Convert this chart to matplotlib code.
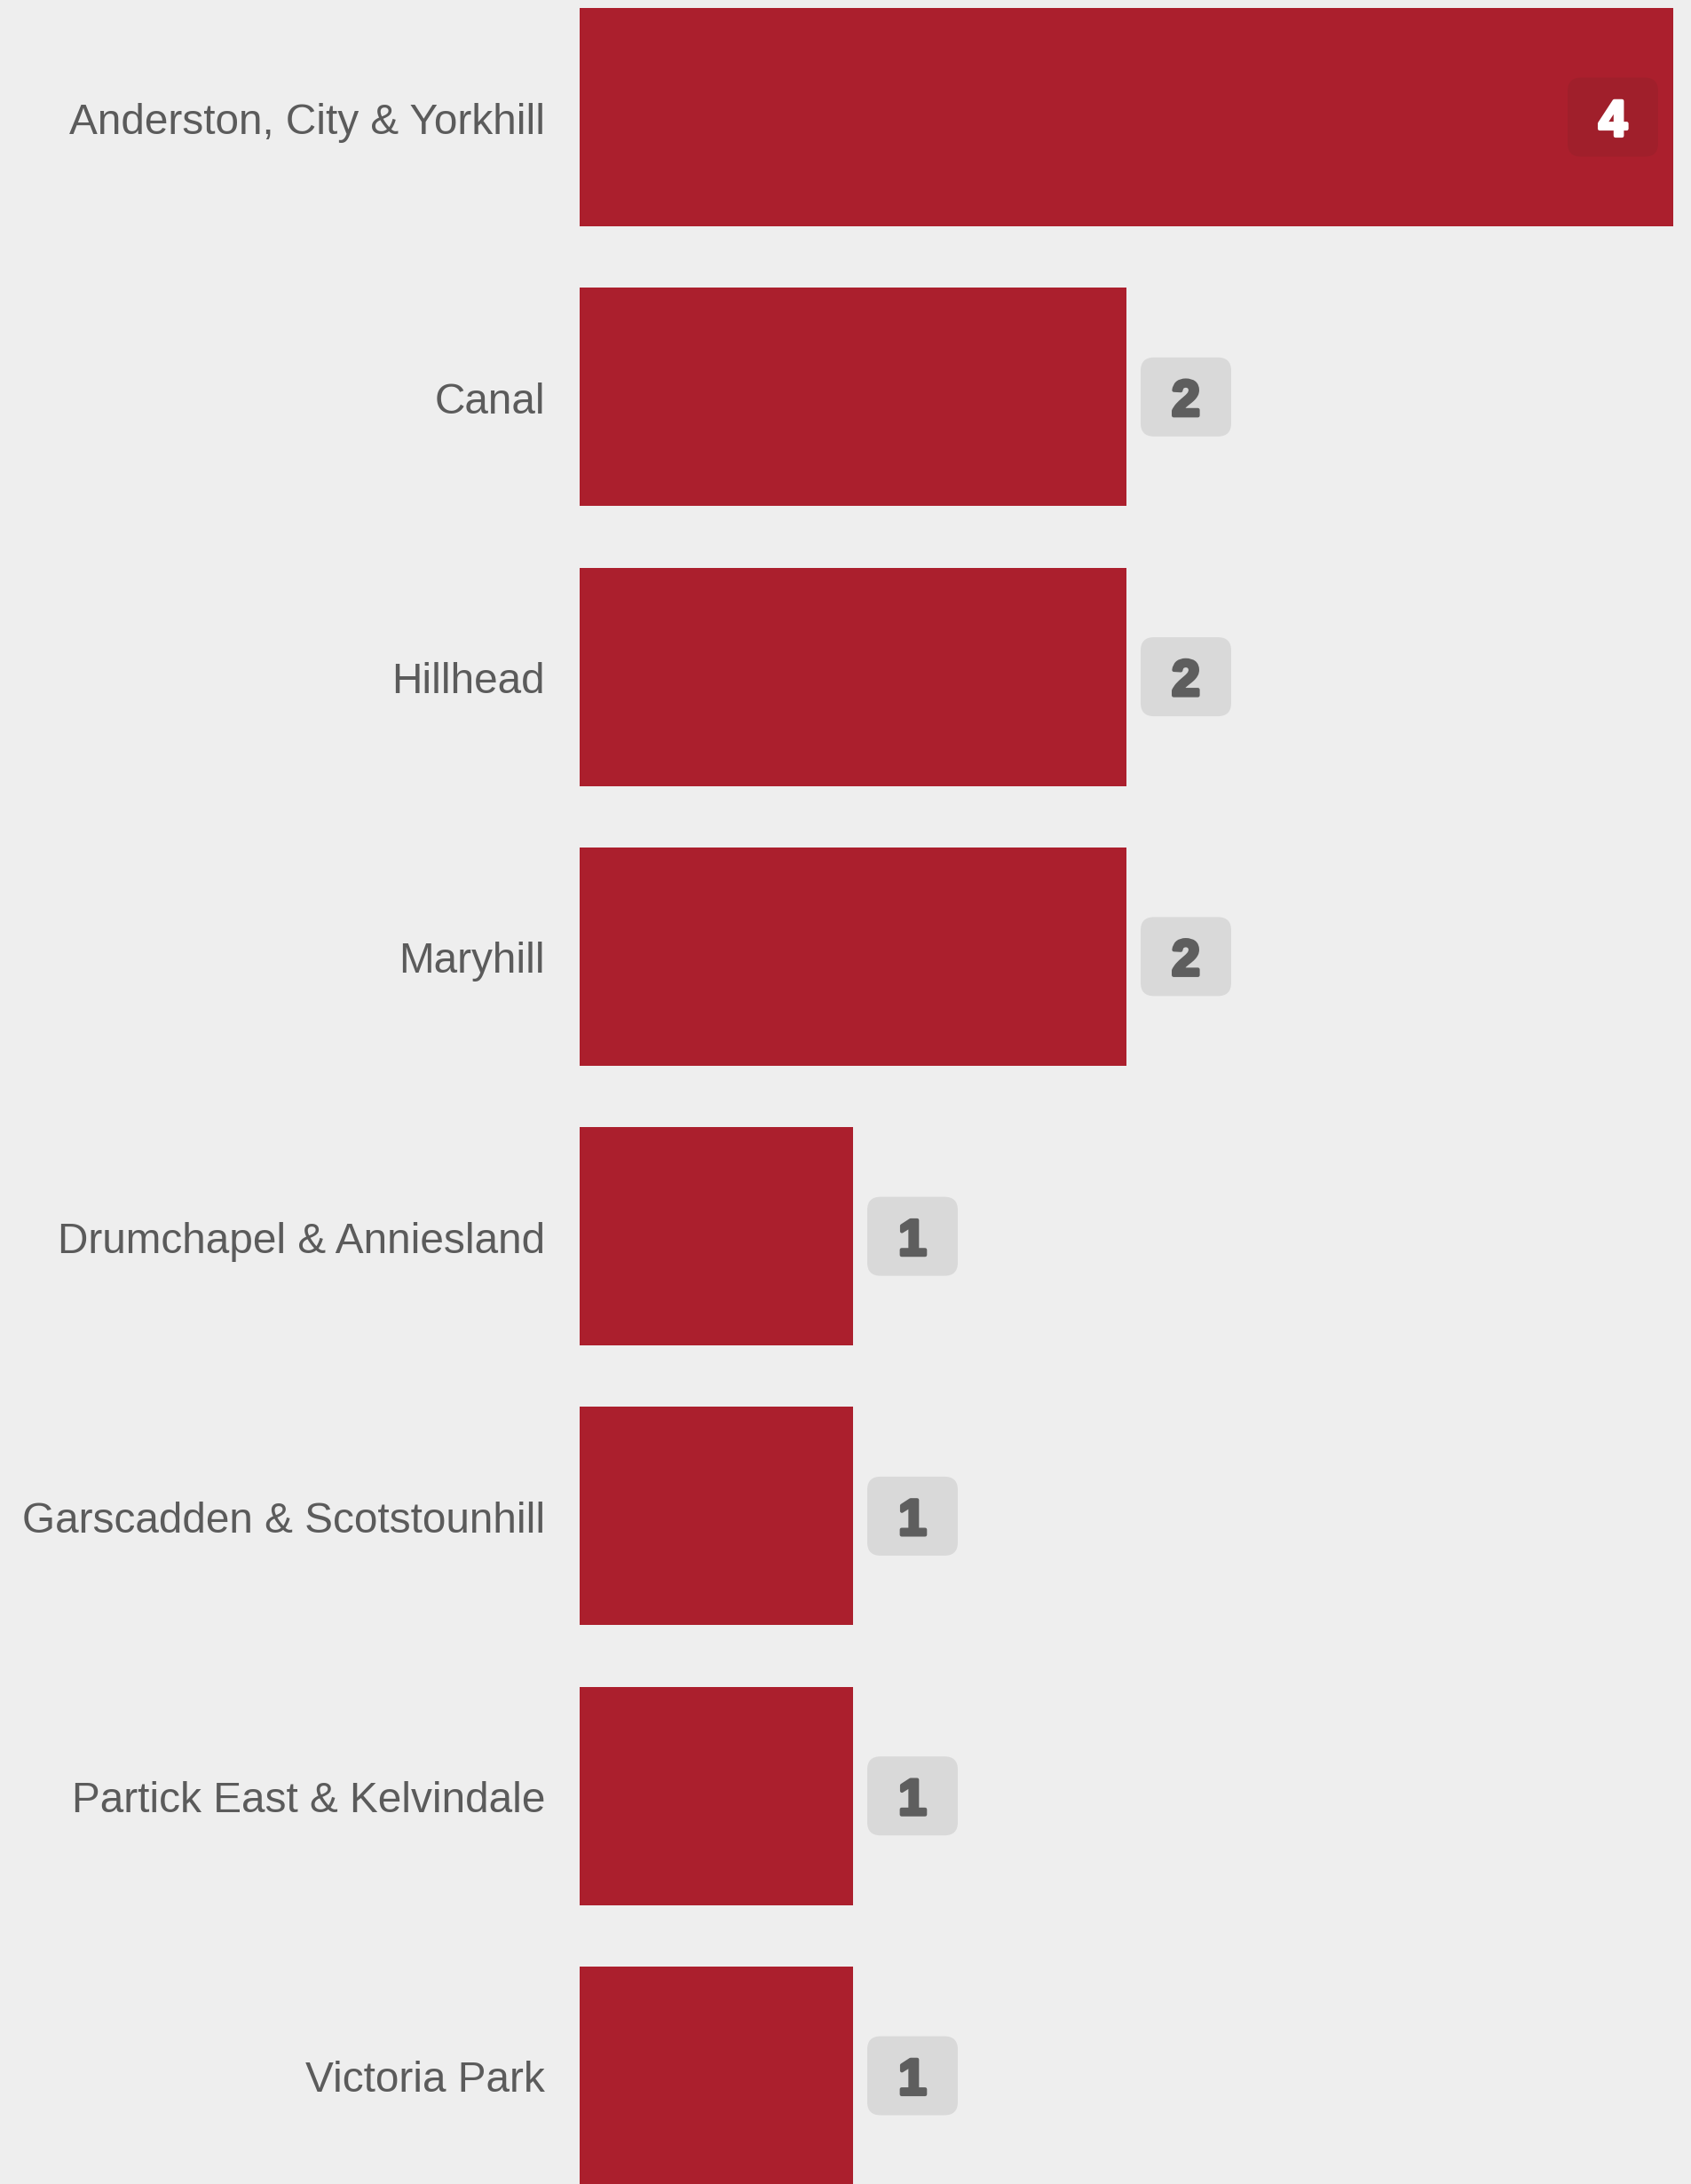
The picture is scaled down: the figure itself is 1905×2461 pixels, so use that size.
import matplotlib.pyplot as plt
import matplotlib.patheffects as pe
from matplotlib.patches import FancyBboxPatch

wards = ["Anderston, City & Yorkhill", "Canal", "Hillhead", "Maryhill",
         "Drumchapel & Anniesland", "Garscadden & Scotstounhill",
         "Partick East & Kelvindale", "Victoria Park"]
counts = [4, 2, 2, 2, 1, 1, 1, 1]

bg = "#eeeeee"
bar_col = "#ab1f2d"
txt_col = "#5b5b5b"

plt.rcParams['font.family'] = ['Liberation Sans', 'DejaVu Sans']

W, H, DPI = 1906, 2461, 100
fig = plt.figure(figsize=(W / DPI, H / DPI), dpi=DPI, facecolor=bg)
# axes: x 0..4 spans bar area
ax = fig.add_axes([653 / W, 0, 1232 / W, 1])
ax.set_facecolor(bg)
pos = list(range(len(wards)))
ax.barh(pos, counts, height=0.78, color=bar_col)
ax.set_xlim(0, 4)
ax.set_ylim(7.387, -0.4187)
ax.axis('off')

# ward labels
for i, w in enumerate(wards):
    ax.annotate(w, xy=(0, i), xytext=(-39, -6), textcoords='offset pixels',
                ha='right', va='center', fontsize=34.4, color=txt_col)

# value badges
bw, bh = 102, 89
for i, c in enumerate(counts):
    x_px, y_px = ax.transData.transform((c, i))
    inside = c == max(counts)
    if inside:
        x0 = x_px - 17 - bw
        fc, tc = "#a01f2b", "white"
    else:
        x0 = x_px + 16
        fc, tc = "#d9d9d9", "#5e5e5e"
    box = FancyBboxPatch(((x0) / DPI, (y_px - bh / 2) / DPI), bw / DPI, bh / DPI,
                         boxstyle="round,pad=0,rounding_size=0.15",
                         transform=fig.dpi_scale_trans, fc=fc, ec='none', zorder=3)
    fig.patches.append(box)
    fig.text((x0 + bw / 2) / W, (y_px - 6) / H, str(c), ha='center', va='center',
             fontsize=41, fontweight='bold', color=tc, zorder=4,
             path_effects=[pe.withStroke(linewidth=3, foreground=tc)])

fig.savefig("out.png", dpi=DPI, facecolor=bg)
